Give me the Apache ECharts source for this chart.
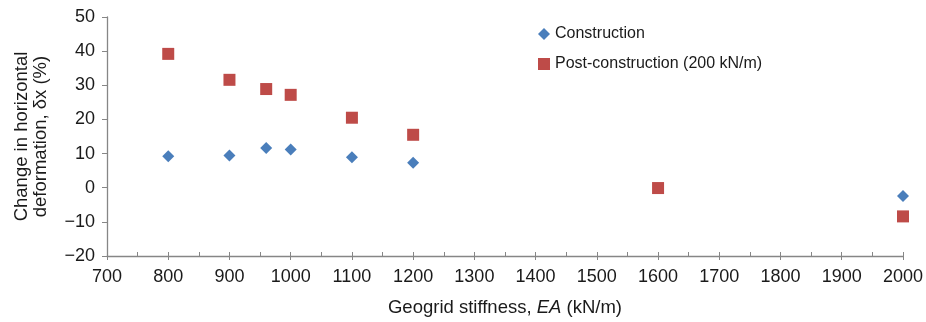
<!DOCTYPE html>
<html>
<head>
<meta charset="utf-8">
<script src="https://cdn.jsdelivr.net/npm/echarts@6/dist/echarts.min.js"></script>
<style>html,body{margin:0;padding:0;background:#fff;}#c{width:926px;height:322px;}</style>
</head>
<body>
<div id="c"></div>
<script>
const constructionX = [800, 900, 960, 1000, 1100, 1200, 2000];
const constructionY = [9.2, 9.4, 11.6, 11.2, 8.9, 7.3, -2.4];
const postX = [800, 900, 960, 1000, 1100, 1200, 1600, 2000];
const postY = [39.2, 31.6, 28.9, 27.2, 20.5, 15.5, -0.1, -8.4];
const seriesNames = ['Construction', 'Post-construction (200 kN/m)'];
const xTitle = 'Geogrid stiffness, {i|EA} (kN/m)';
const yTitle = 'Change in horizontal\ndeformation, δx (%)';

const font = '"Liberation Sans", Arial, sans-serif';
const chart = echarts.init(document.getElementById('c'), null, {renderer: 'canvas'});
chart.setOption({
  animation: false,
  backgroundColor: '#fff',
  textStyle: {fontFamily: font},
  grid: {left: 107, right: 20, top: 17, bottom: 65},
  legend: {
    orient: 'vertical', left: 533, top: 21, itemGap: 14,
    itemWidth: 12, itemHeight: 12,
    textStyle: {fontSize: 16, color: '#1a1a1a', fontFamily: font},
    data: [
      {name: seriesNames[0], icon: 'diamond', itemStyle: {color: '#4a7ebb', opacity: 1}},
      {name: seriesNames[1], icon: 'rect', itemStyle: {color: '#be4b48', opacity: 1}}
    ]
  },
  xAxis: [{
    type: 'value', min: 700, max: 2000, interval: 100,
    name: xTitle, nameLocation: 'middle', nameGap: 42,
    nameTextStyle: {fontSize: 18.5, color: '#1a1a1a', fontFamily: font, rich: {i: {fontStyle: 'italic', fontSize: 18.5, color: '#1a1a1a', fontFamily: font}}},
    axisLine: {onZero: false, lineStyle: {color: '#868686', width: 1.3}},
    axisTick: {show: true, length: 4, lineStyle: {color: '#868686'}},
    axisLabel: {fontSize: 18, color: '#1a1a1a', margin: 12, fontFamily: font, formatter: v => String(v)},
    splitLine: {show: false}
  }, {
    type: 'value', min: 700, max: 2000, interval: 50, position: 'bottom', offset: 0,
    axisLine: {show: false, onZero: false},
    axisTick: {show: true, inside: true, length: 4, lineStyle: {color: '#868686'}},
    axisLabel: {show: false},
    splitLine: {show: false}
  }],
  yAxis: {
    type: 'value', min: -20, max: 50, interval: 10,
    name: yTitle, nameLocation: 'middle', nameGap: 57, nameRotate: 90,
    nameTextStyle: {fontSize: 18.5, color: '#1a1a1a', fontFamily: font, lineHeight: 19},
    axisLine: {show: true, onZero: false, lineStyle: {color: '#868686', width: 1.3}},
    axisTick: {show: true, length: 5, lineStyle: {color: '#868686'}},
    axisLabel: {fontSize: 18, color: '#1a1a1a', margin: 12, fontFamily: font,
      formatter: v => v < 0 ? '\u2212' + Math.abs(v) : String(v)},
    splitLine: {show: false}
  },
  series: [
    {name: seriesNames[0], type: 'scatter', symbol: 'diamond', symbolSize: 12,
     itemStyle: {color: '#4a7ebb', opacity: 1},
     data: constructionX.map((x, i) => [x, constructionY[i]])},
    {name: seriesNames[1], type: 'scatter', symbol: 'rect', symbolSize: 12,
     itemStyle: {color: '#be4b48', opacity: 1},
     data: postX.map((x, i) => [x, postY[i]])}
  ]
});
</script>
</body>
</html>
